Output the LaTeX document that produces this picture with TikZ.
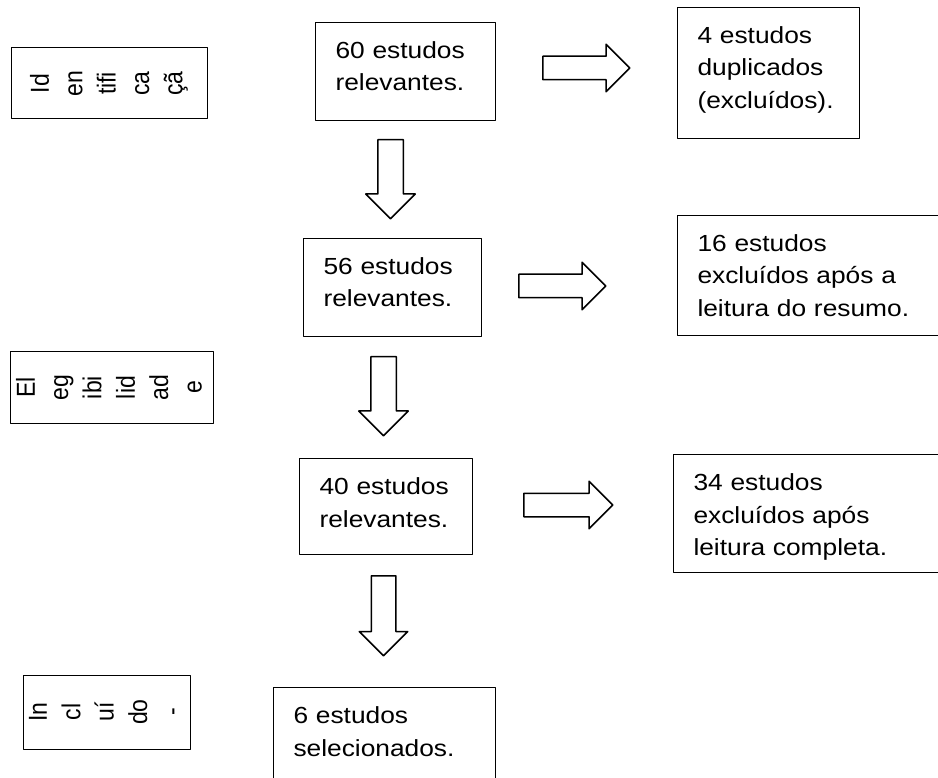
\documentclass[tikz,border=0pt]{standalone}
\usepackage{fontspec}
\setmainfont{Liberation Sans}[FakeStretch=1.13]
\newfontfamily\sidefont{Liberation Sans}
\usepackage{graphicx}
\usetikzlibrary{shapes.arrows}
\newcommand\sidetext[1]{\scalebox{1.13}[1]{\rotatebox{90}{\fontsize{23pt}{29.5pt}\sidefont\begin{tabular}{@{}c@{}}#1\end{tabular}}}}

\begin{document}
\begin{tikzpicture}[line cap=round,line join=round,x=1pt,y=-1pt,
  stagebox/.style={draw,line width=1pt,anchor=north west,inner xsep=20pt,inner ysep=0pt,
    align=left,text height=36pt,font=\fontsize{23.3pt}{32.5pt}\selectfont},
  sidebox/.style={draw,line width=1pt,inner sep=0pt},
  blockarrow/.style={single arrow,draw,line width=1.5pt,single arrow head extend=12pt,
    single arrow tip angle=90,inner xsep=0pt,inner ysep=11pt,anchor=tail},
  downarrow/.style={blockarrow,rotate=-90,inner ysep=12pt}]
\useasboundingbox (0,0) rectangle (938,778);
% fases
\node[sidebox,minimum width=196pt,minimum height=71pt] (ident) at (109,83.5) {\sidetext{Id\\en\\tifi\\ca\\çã}};
\node[sidebox,minimum width=203pt,minimum height=71pt] (eleg) at (111.5,387.5) {\sidetext{El\\eg\\ibi\\lid\\ad\\e}};
\node[sidebox,minimum width=164pt,minimum height=74pt] (incl) at (107,712) {\sidetext{In\\cl\\uí\\do\\-}};
% estudos
\node[stagebox,text width=140pt,text depth=62pt] (s60) at (315,22) {60 estudos\\relevantes.};
\node[stagebox,text width=138pt,text depth=62pt] (s56) at (303,238) {56 estudos\\relevantes.};
\node[stagebox,text width=133pt,text depth=60pt] (s40) at (299,458) {40 estudos\\relevantes.};
\node[stagebox,text width=182pt,text depth=100pt] (s6) at (273,687) {6 estudos\\selecionados.};
\node[stagebox,text width=142pt,text depth=95pt] (x4) at (677,7) {4 estudos\\duplicados\\(excluídos).};
\node[stagebox,text width=233pt,text depth=84pt] (x16) at (677,215) {16 estudos\\excluídos após a\\leitura do resumo.};
\node[stagebox,text width=237pt,text depth=82pt] (x34) at (673,454) {34 estudos\\excluídos após\\leitura completa.};
% setas
\node[blockarrow,minimum height=87pt] (a60x) at (542,68) {};
\node[blockarrow,minimum height=87pt] (a56x) at (518,286) {};
\node[blockarrow,minimum height=89pt] (a40x) at (523,505) {};
\node[downarrow,minimum height=79pt] (a60) at (390.5,139) {};
\node[downarrow,minimum height=79pt] (a56) at (383.5,356) {};
\node[downarrow,minimum height=80pt,inner ysep=11.5pt] (a40) at (383.5,575) {};
\end{tikzpicture}
\end{document}
